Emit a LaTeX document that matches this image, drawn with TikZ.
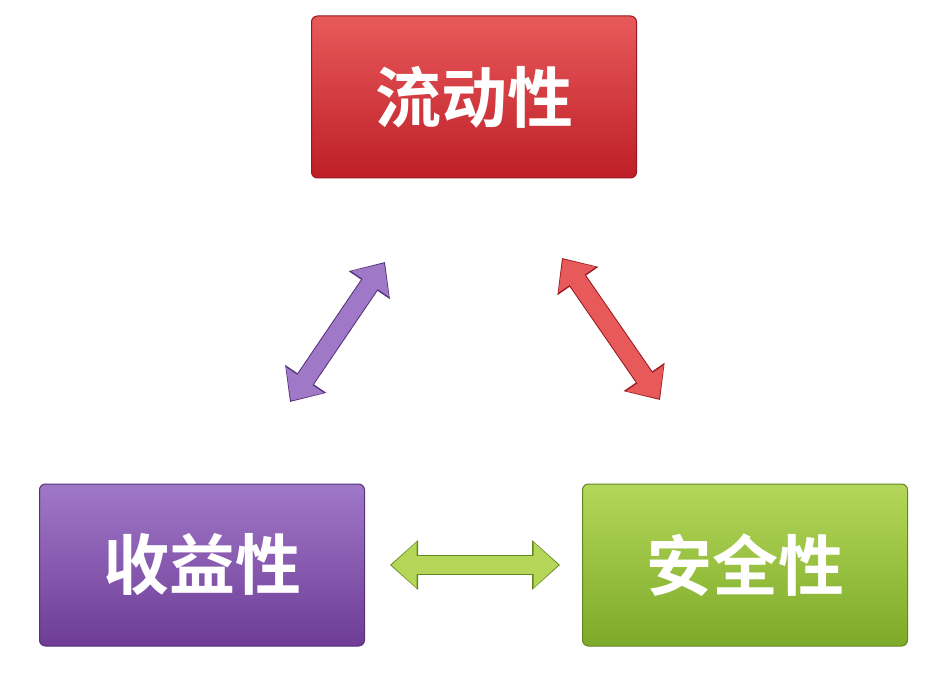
\documentclass[tikz,border=0pt]{standalone}
\usepackage{fontspec}
\newfontfamily\cjk{Noto Sans CJK SC Bold}
\usetikzlibrary{positioning,arrows.meta,calc}

\definecolor{redtop}{RGB}{232,90,90}
\definecolor{redbot}{RGB}{190,30,40}
\definecolor{purtop}{RGB}{160,120,200}
\definecolor{purbot}{RGB}{110,60,150}
\definecolor{grntop}{RGB}{180,215,90}
\definecolor{grnbot}{RGB}{125,170,40}

\tikzset{
  box/.style={rounded corners=6pt, minimum width=325pt, minimum height=162pt,
    text=white, font=\cjk\fontsize{66}{76}\selectfont, draw=#1bot!80!black, line width=1pt,
    top color=#1top, bottom color=#1bot},
  fat/.style={line width=20pt, draw=#1bot!80!black, {Triangle[length=28pt,width=48pt]}-{Triangle[length=28pt,width=48pt]}},
  fatin/.style={line width=18pt, draw=#1top, {Triangle[length=25pt,width=44pt]}-{Triangle[length=25pt,width=44pt]}}
}

\begin{document}
\begin{tikzpicture}[x=1pt,y=-1pt]
  \useasboundingbox[fill=white] (0,0) rectangle (948,690);

  \node[box=red] (flow) at (474,97) {流动性};
  \node[box=pur] (yield) at (202,565) {收益性};
  \node[box=grn] (safe) at (745,565) {安全性};

  % arrows between the boxes
  \coordinate (fa) at (385,262);
  \coordinate (fb) at (290,402);
  \coordinate (fc) at (562,258);
  \coordinate (fd) at (660,400);
  \coordinate (fe) at (390,565);
  \coordinate (ff) at (560,565);

  \draw[fat=pur] (fa) -- (fb);
  \draw[fatin=pur] ($(fa)!1.5pt!(fb)$) -- ($(fb)!1.5pt!(fa)$);
  \draw[fat=red] (fc) -- (fd);
  \draw[fatin=red] ($(fc)!1.5pt!(fd)$) -- ($(fd)!1.5pt!(fc)$);
  \draw[fat=grn] (fe) -- (ff);
  \draw[fatin=grn] ($(fe)!1.5pt!(ff)$) -- ($(ff)!1.5pt!(fe)$);
\end{tikzpicture}
\end{document}
